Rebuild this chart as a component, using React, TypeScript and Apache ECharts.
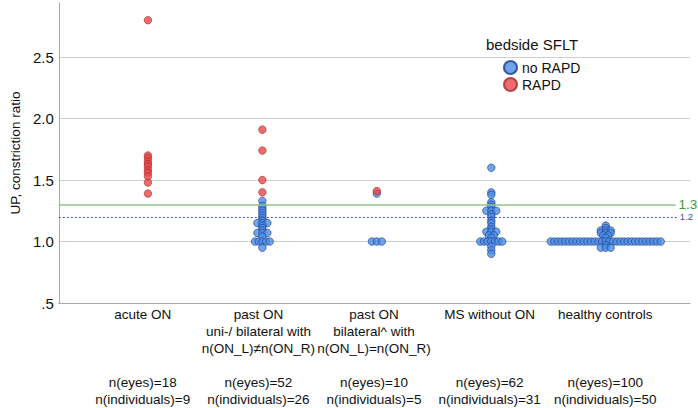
import React, { useEffect, useRef } from "react";
import * as echarts from "echarts";

// ---------- data ----------
const categories = [
  "acute ON",
  "past ON\nuni-/ bilateral with\nn(ON_L)≠n(ON_R)",
  "past ON\nbilateral^ with\nn(ON_L)=n(ON_R)",
  "MS without ON",
  "healthy controls",
];
const nEyes = [18, 52, 10, 62, 100];
const nIndividuals = [9, 26, 5, 31, 50];
const yTicks = [0.5, 1.0, 1.5, 2.0, 2.5];
const cutoffMain = 1.3;
const cutoffAlt = 1.2;
const seriesNames = ["no RAPD", "RAPD"];

// [value, number of dots stacked at that value]
const acuteNoRapd: [number, number][] = [];
const acuteRapd: [number, number][] = [
  [2.8, 1], [1.7, 1], [1.68, 1], [1.65, 1], [1.63, 1], [1.61, 1], [1.58, 1], [1.56, 1], [1.53, 1], [1.48, 1], [1.39, 1],
];
const pastUniNoRapd: [number, number][] = [
  [1.33, 1], [1.29, 1], [1.27, 1], [1.25, 1], [1.23, 1], [1.21, 1], [1.19, 1], [1.17, 1], [1.15, 3], [1.13, 1],
  [1.11, 1], [1.09, 1], [1.07, 3], [1.04, 1], [1.0, 5], [0.95, 1],
];
const pastUniRapd: [number, number][] = [[1.91, 1], [1.74, 1], [1.5, 1], [1.4, 1]];
const pastBiNoRapd: [number, number][] = [[1.39, 1], [1.0, 3]];
const pastBiRapd: [number, number][] = [[1.41, 1]];
const msNoRapd: [number, number][] = [
  [1.6, 1], [1.4, 1], [1.38, 1], [1.32, 1], [1.3, 1], [1.28, 1], [1.25, 3], [1.22, 1], [1.2, 1], [1.17, 1],
  [1.15, 1], [1.12, 1], [1.1, 1], [1.08, 3], [1.05, 2], [1.03, 1], [1.0, 7], [0.96, 1], [0.93, 1], [0.9, 1],
];
const msRapd: [number, number][] = [];
const healthyNoRapd: [number, number][] = [
  [1.13, 1], [1.11, 1], [1.09, 3], [1.07, 3], [1.05, 2], [1.03, 1], [1.0, 31], [0.97, 1], [0.95, 3],
];
const healthyRapd: [number, number][] = [];

const noRapdGroups = [acuteNoRapd, pastUniNoRapd, pastBiNoRapd, msNoRapd, healthyNoRapd];
const rapdGroups = [acuteRapd, pastUniRapd, pastBiRapd, msRapd, healthyRapd];

// ---------- layout ----------
const PX_PER_CAT = 115.5;
const X_MIN = -0.779;
const X_MAX = 4.736;
const LINE_END = 4.61;

function swarm(groups: [number, number][][]) {
  const pts: number[][] = [];
  groups.forEach((g, ci) => {
    g.forEach(([v, n]) => {
      const stepPx = n <= 3 ? 5 : 3.7;
      for (let k = 0; k < n; k++) {
        pts.push([ci + ((k - (n - 1) / 2) * stepPx) / PX_PER_CAT, v]);
      }
    });
  });
  return pts;
}

const FONT = '"Liberation Sans", Arial, Helvetica, sans-serif';
const TXT = "#111";

export default function App() {
  const ref = useRef<HTMLDivElement>(null);
  useEffect(() => {
    if (!ref.current) return;
    const chart = echarts.init(ref.current, undefined, { renderer: "svg" });
    const catLabels = categories.map((c, i) => {
      const lines = c.split("\n");
      while (lines.length < 3) lines.push("");
      lines.push("");
      lines.push(`n(eyes)=${nEyes[i]}`);
      lines.push(`n(individuals)=${nIndividuals[i]}`);
      return lines.join("\n");
    });
    chart.setOption({
      animation: false,
      textStyle: { fontFamily: FONT },
      grid: [
        { left: 53, right: 8, top: 3, bottom: 105 },
        { left: 85, right: 35, top: 3, bottom: 105 },
      ],
      xAxis: [
        {
          type: "value",
          gridIndex: 0,
          min: X_MIN,
          max: X_MAX,
          axisLine: { show: true, onZero: false, lineStyle: { color: "#a8a8a8", width: 1 } },
          axisTick: { show: false },
          axisLabel: { show: false },
          splitLine: { show: false },
        },
        {
          type: "category",
          gridIndex: 1,
          data: catLabels,
          axisLine: { show: false },
          axisTick: { show: false },
          axisLabel: {
            interval: 0,
            margin: 5,
            fontSize: 13.5,
            lineHeight: 17,
            color: TXT,
            fontFamily: FONT,
          },
          splitLine: { show: false },
        },
      ],
      yAxis: [
        {
          type: "value",
          gridIndex: 0,
          min: 0.5,
          max: 2.94,
          interval: 0.5,
          name: "UP, constriction ratio",
          nameLocation: "middle",
          nameGap: 36,
          nameTextStyle: { fontSize: 13.5, color: TXT, fontFamily: FONT },
          axisLine: { show: true, onZero: false, lineStyle: { color: "#a8a8a8", width: 1 } },
          axisTick: { show: false },
          axisLabel: {
            margin: 5,
            fontSize: 15,
            color: TXT,
            fontFamily: FONT,
            showMaxLabel: false,
            formatter: (v: number) => {
              const t = yTicks.find((y) => Math.abs(y - v) < 1e-6);
              if (t === undefined) return "";
              return t < 1 ? String(t).replace(/^0/, "") : t.toFixed(1);
            },
          },
          splitLine: {
            show: true,
            showMinLine: false,
            showMaxLine: false,
            lineStyle: { color: "#cfcfcf", width: 1 },
          },
        },
        { type: "value", gridIndex: 1, show: false, min: 0, max: 1 },
      ],
      legend: {
        data: seriesNames,
        orient: "vertical",
        left: 498,
        top: 55,
        itemWidth: 13,
        itemHeight: 13,
        itemGap: 2,
        icon: "circle",
        textStyle: { fontSize: 14, color: TXT, fontFamily: FONT },
      },
      graphic: [
        {
          type: "text",
          left: 486,
          top: 37,
          style: { text: "bedside SFLT", fontSize: 15, fill: TXT, font: `15px ${FONT}` },
        },
      ],
      series: [
        {
          name: seriesNames[0],
          type: "scatter",
          xAxisIndex: 0,
          yAxisIndex: 0,
          symbol: "circle",
          symbolSize: 7.5,
          itemStyle: { color: "#4a8fe6", borderColor: "#1f3a8a", borderWidth: 0.8 },
          data: swarm(noRapdGroups),
          markLine: {
            silent: true,
            symbol: ["none", "none"],
            data: [
              [
                {
                  coord: [X_MIN, cutoffMain],
                  lineStyle: { color: "#8fc58a", type: "solid", width: 1.5 },
                  label: { show: true, position: "end", formatter: String(cutoffMain), color: "#3a9a3a", fontSize: 13.5, distance: 3, fontFamily: FONT },
                },
                { coord: [LINE_END, cutoffMain] },
              ],
              [
                {
                  coord: [X_MIN, cutoffAlt],
                  lineStyle: { color: "#4052b0", type: [2, 2], width: 1 },
                  label: { show: true, position: "end", formatter: String(cutoffAlt), color: "#4052b0", fontSize: 9.5, distance: 2, fontFamily: FONT },
                },
                { coord: [LINE_END + 0.02, cutoffAlt] },
              ],
            ],
          },
        },
        {
          name: seriesNames[1],
          type: "scatter",
          xAxisIndex: 0,
          yAxisIndex: 0,
          symbol: "circle",
          symbolSize: 7.5,
          itemStyle: { color: "#e8484a", borderColor: "#a82a2a", borderWidth: 0.8 },
          data: swarm(rapdGroups),
        },
      ],
    });
    return () => chart.dispose();
  }, []);
  return (
    <div
      ref={ref}
      style={{ position: "fixed", left: 0, top: 0, width: 698, height: 408, background: "#fff" }}
    />
  );
}
